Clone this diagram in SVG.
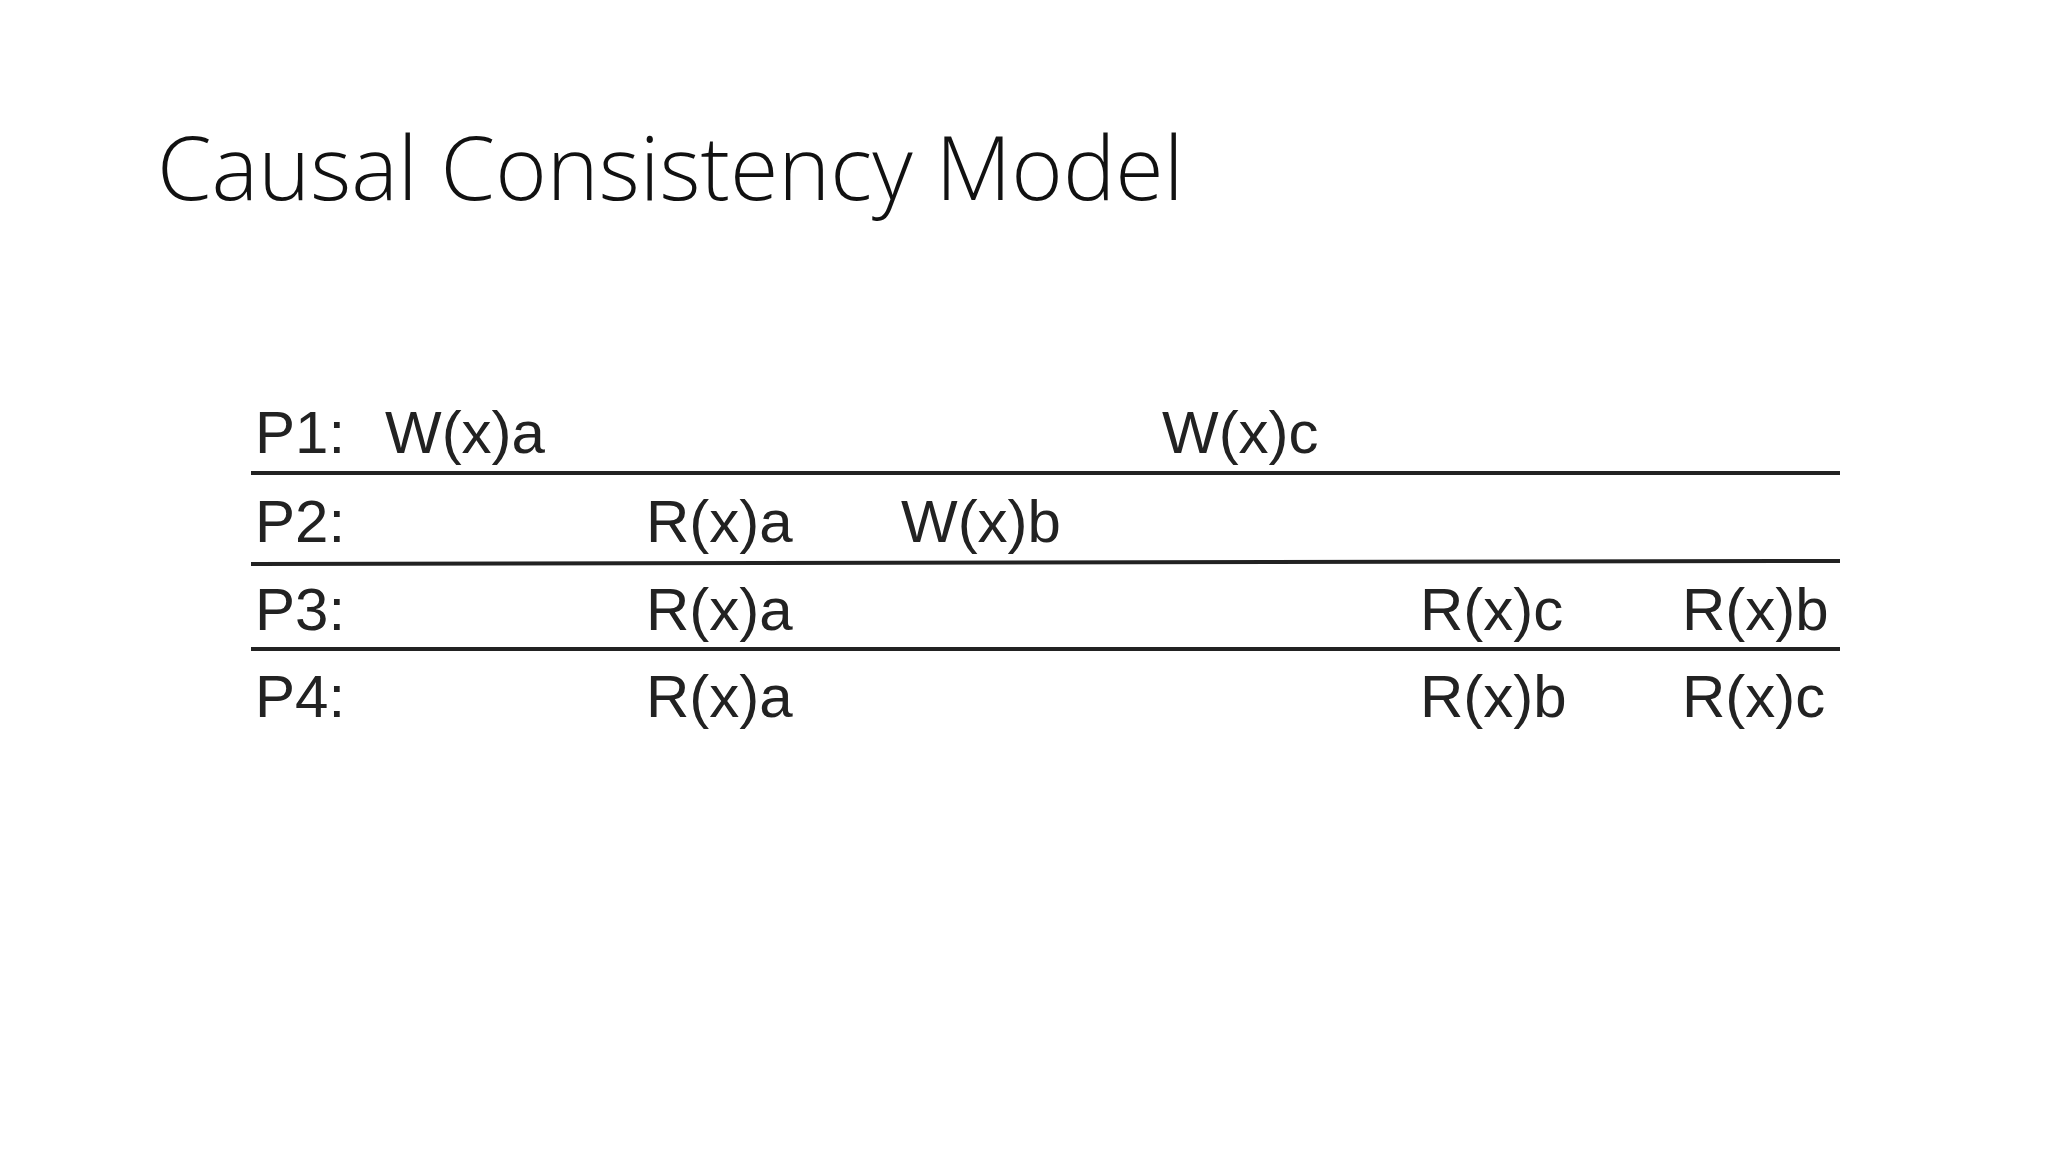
<svg xmlns="http://www.w3.org/2000/svg" width="2048" height="1152" viewBox="0 0 2048 1152">
<style>
.t{font-family:"Liberation Sans",Arial,sans-serif;font-size:60px;fill:#222}
.l{stroke:#222;stroke-width:4}
</style>
<rect width="2048" height="1152" fill="#fff"/>
<text x="157" y="200" font-family="'Open Sans',sans-serif" font-weight="300" font-size="88" fill="#111">Causal Consistency Model</text>
<g id="connectors">
<line class="l" x1="251" y1="473" x2="1840" y2="473"/>
<line class="l" x1="251" y1="564" x2="1840" y2="561"/>
<line class="l" x1="251" y1="649" x2="1840" y2="649"/>
</g>
<g id="p1"><text class="t" x="255" y="453">P1:</text><text class="t" x="385" y="453">W(x)a</text><text class="t" x="1162" y="453">W(x)c</text></g>
<g id="p2"><text class="t" x="255" y="542">P2:</text><text class="t" x="646" y="542">R(x)a</text><text class="t" x="901" y="542">W(x)b</text></g>
<g id="p3"><text class="t" x="255" y="630">P3:</text><text class="t" x="646" y="630">R(x)a</text><text class="t" x="1420" y="630">R(x)c</text><text class="t" x="1682" y="630">R(x)b</text></g>
<g id="p4"><text class="t" x="255" y="717">P4:</text><text class="t" x="646" y="717">R(x)a</text><text class="t" x="1420" y="717">R(x)b</text><text class="t" x="1682" y="717">R(x)c</text></g>
</svg>
